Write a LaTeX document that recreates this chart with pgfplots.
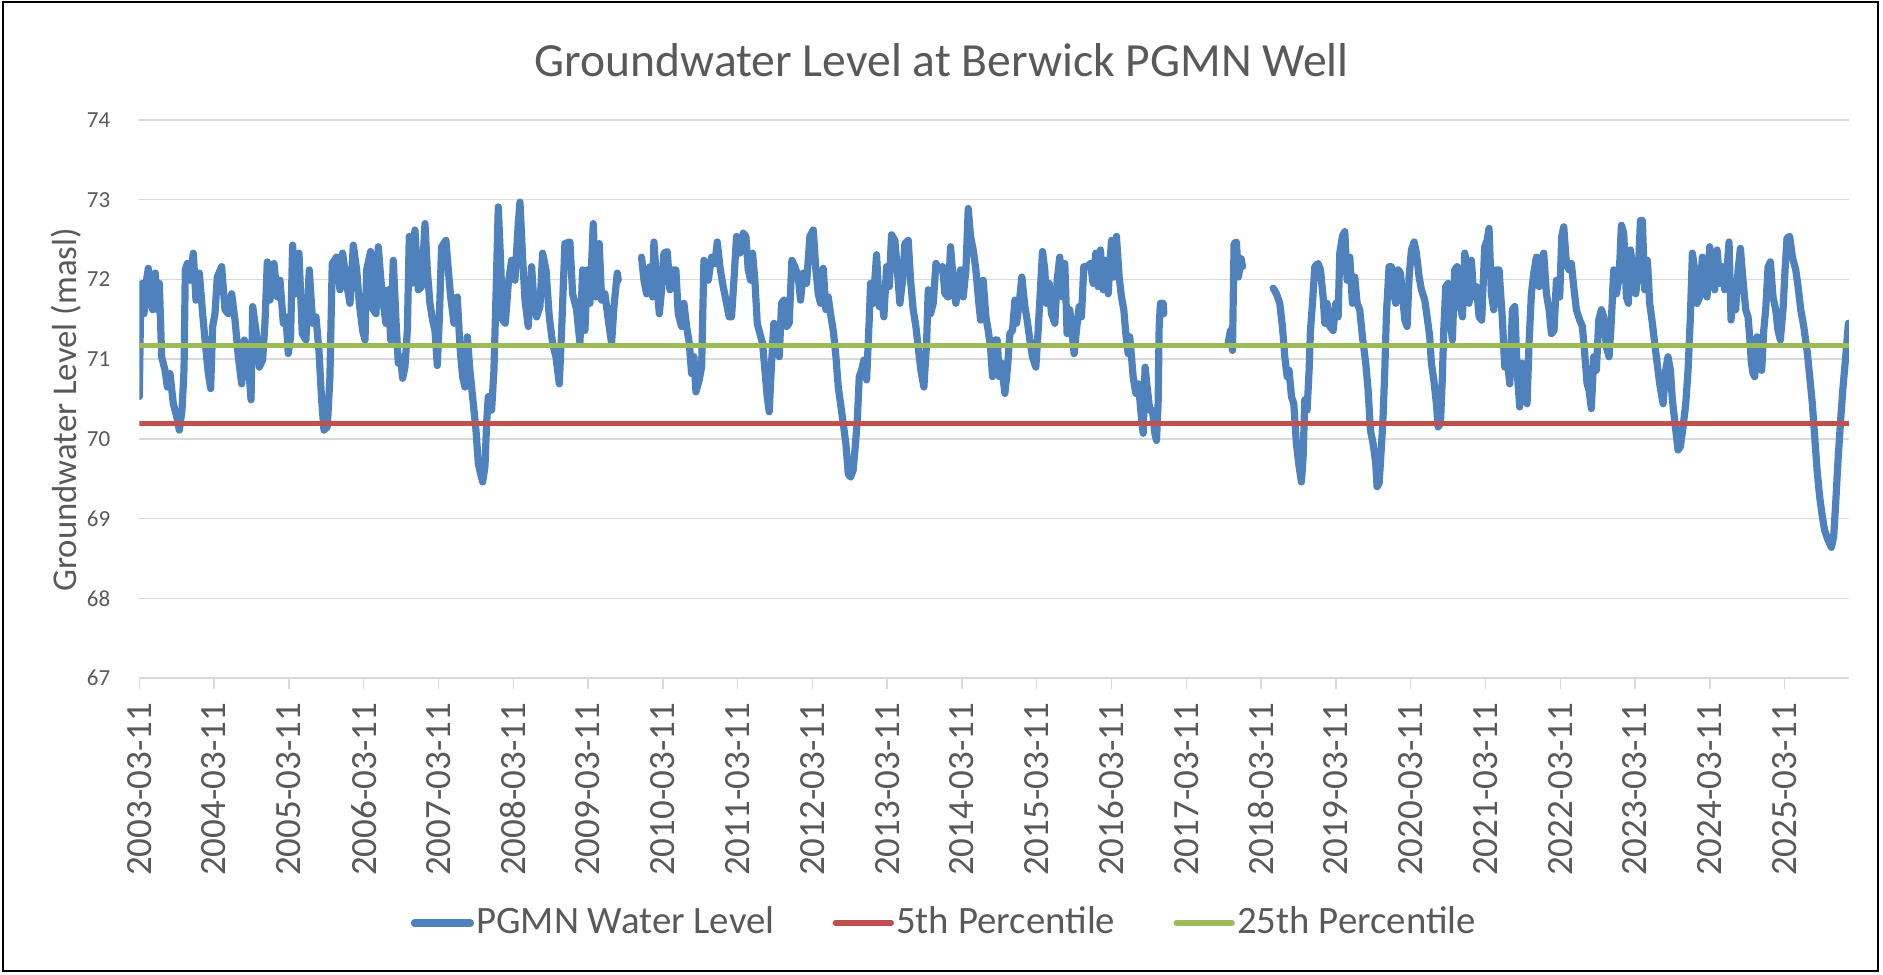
\documentclass[border=0pt]{standalone}
\usepackage{pgfplots}
\pgfplotsset{compat=1.18}
\usepackage{pgfplotstable}
\usepackage{fontspec}
\setmainfont{Carlito}
\definecolor{txt}{HTML}{595959}
\definecolor{grd}{HTML}{D9D9D9}
\definecolor{lblue}{HTML}{4F81BD}
\definecolor{lred}{HTML}{C0504D}
\definecolor{lgreen}{HTML}{9BBB59}

\pgfplotstableread{
t v
0.000 70.53
0.018 71.70
0.036 71.95
0.063 71.57
0.090 71.95
0.121 72.14
0.152 71.70
0.179 71.62
0.214 72.08
0.241 71.62
0.268 71.95
0.299 71.03
0.344 70.86
0.375 70.65
0.410 70.82
0.455 70.44
0.500 70.28
0.535 70.11
0.571 70.36
0.598 70.86
0.615 72.12
0.642 72.20
0.678 71.99
0.722 72.33
0.758 71.74
0.803 72.08
0.847 71.57
0.883 71.20
0.918 70.86
0.954 70.63
0.981 71.41
1.012 71.57
1.043 72.03
1.101 72.16
1.146 71.62
1.191 71.57
1.235 71.82
1.280 71.49
1.324 71.03
1.369 70.69
1.404 71.24
1.458 70.95
1.494 70.49
1.516 71.66
1.560 71.36
1.605 70.90
1.649 70.99
1.680 71.45
1.712 72.22
1.747 71.74
1.801 72.20
1.845 71.78
1.881 71.99
1.926 71.45
1.961 71.53
1.992 71.07
2.023 71.28
2.050 72.43
2.090 71.82
2.135 72.33
2.179 71.32
2.228 71.24
2.273 72.12
2.318 71.45
2.362 71.53
2.402 71.11
2.438 70.49
2.469 70.11
2.514 70.15
2.549 70.78
2.580 72.20
2.638 72.28
2.683 71.87
2.718 72.33
2.772 71.95
2.817 71.70
2.862 72.43
2.906 72.12
2.942 71.70
2.986 71.36
3.018 71.24
3.040 72.12
3.093 72.35
3.129 71.62
3.165 71.57
3.196 72.41
3.227 72.03
3.263 71.70
3.298 71.45
3.330 71.87
3.361 71.24
3.396 72.24
3.432 71.49
3.463 70.95
3.494 71.03
3.521 70.76
3.552 70.90
3.584 71.36
3.610 72.54
3.641 71.95
3.686 72.62
3.731 71.87
3.775 71.91
3.820 72.70
3.851 72.12
3.886 71.70
3.922 71.49
3.953 71.36
3.985 70.92
4.011 71.49
4.042 72.41
4.100 72.49
4.132 72.12
4.163 71.78
4.208 71.45
4.252 71.78
4.288 71.15
4.323 70.78
4.354 70.65
4.386 71.28
4.421 70.86
4.466 70.44
4.502 70.11
4.533 69.69
4.564 69.56
4.591 69.46
4.622 69.65
4.644 70.19
4.666 70.53
4.711 70.36
4.742 70.86
4.769 71.78
4.800 72.91
4.831 72.24
4.858 71.49
4.894 71.45
4.934 71.95
4.978 72.24
5.023 71.99
5.067 72.70
5.090 72.97
5.125 72.28
5.157 71.74
5.201 71.41
5.246 72.16
5.277 71.70
5.313 71.53
5.357 71.66
5.393 72.33
5.438 72.12
5.482 71.53
5.526 71.20
5.571 71.03
5.616 70.69
5.647 71.36
5.691 72.45
5.758 72.47
5.794 71.82
5.847 71.62
5.892 71.20
5.928 72.12
5.959 71.36
5.990 72.12
6.026 71.70
6.070 72.70
6.106 71.78
6.150 72.45
6.182 71.74
6.226 71.82
6.271 71.49
6.315 71.20
6.347 71.66
6.391 72.08
6.404 71.99
6.560 nan
6.716 72.28
6.748 71.99
6.783 71.82
6.828 72.16
6.864 71.78
6.881 72.47
6.917 71.99
6.953 71.57
6.984 71.87
7.015 72.33
7.060 72.35
7.095 71.87
7.140 72.12
7.175 72.12
7.206 71.57
7.251 71.41
7.282 71.70
7.318 71.41
7.354 71.20
7.385 70.82
7.416 71.03
7.443 70.59
7.487 70.74
7.519 70.90
7.550 72.24
7.608 71.99
7.652 72.28
7.697 72.20
7.728 72.47
7.764 72.16
7.799 71.95
7.844 71.74
7.888 71.53
7.919 71.53
7.951 71.99
7.986 72.54
8.031 72.33
8.076 72.58
8.111 72.54
8.142 72.12
8.174 71.99
8.200 72.33
8.231 71.99
8.263 71.45
8.298 71.32
8.334 71.20
8.365 70.86
8.396 70.53
8.423 70.34
8.454 70.95
8.485 71.45
8.521 71.15
8.557 71.03
8.588 71.70
8.619 71.74
8.655 71.41
8.690 71.45
8.726 72.24
8.766 72.16
8.811 72.03
8.842 71.74
8.878 72.08
8.922 71.95
8.967 72.54
9.012 72.62
9.047 72.12
9.078 71.82
9.110 71.70
9.145 72.14
9.181 71.62
9.212 71.78
9.243 71.57
9.279 71.36
9.315 71.03
9.346 70.65
9.377 70.44
9.413 70.19
9.448 69.94
9.480 69.56
9.511 69.52
9.546 69.61
9.573 69.90
9.600 70.23
9.627 70.78
9.658 70.86
9.689 70.99
9.725 70.74
9.760 71.49
9.778 71.95
9.814 71.70
9.858 72.31
9.894 71.66
9.925 71.78
9.956 71.53
9.992 72.16
10.028 71.91
10.059 72.56
10.103 72.49
10.135 72.12
10.170 71.70
10.206 71.99
10.237 72.45
10.282 72.49
10.313 71.99
10.348 71.62
10.384 71.41
10.415 71.15
10.451 70.86
10.491 70.65
10.527 71.20
10.549 71.87
10.580 71.57
10.616 71.70
10.652 72.20
10.696 72.12
10.741 72.16
10.772 71.82
10.817 71.78
10.848 72.41
10.883 71.99
10.919 71.70
10.950 71.95
10.981 72.12
11.017 71.78
11.053 72.12
11.084 72.89
11.115 72.54
11.151 72.37
11.186 72.12
11.218 71.78
11.249 71.49
11.284 71.99
11.320 71.53
11.351 71.36
11.382 71.15
11.409 70.78
11.440 71.24
11.472 71.24
11.498 70.78
11.529 70.95
11.574 70.57
11.610 70.90
11.641 71.32
11.676 71.36
11.708 71.74
11.730 71.45
11.765 71.70
11.801 72.03
11.841 71.66
11.872 71.49
11.908 71.24
11.943 71.03
11.988 70.90
12.019 71.36
12.077 72.35
12.108 72.12
12.130 71.70
12.166 71.95
12.197 71.57
12.242 71.45
12.273 71.99
12.308 72.28
12.344 71.78
12.375 72.20
12.406 71.32
12.442 71.62
12.478 71.28
12.500 71.07
12.531 71.36
12.567 71.66
12.598 71.53
12.629 72.16
12.674 72.16
12.718 72.20
12.754 71.95
12.790 72.33
12.821 71.91
12.852 72.37
12.888 71.87
12.923 72.24
12.955 71.82
12.999 72.49
13.030 72.03
13.066 72.54
13.102 72.03
13.133 71.78
13.164 71.62
13.191 71.32
13.222 71.07
13.244 71.28
13.267 71.03
13.289 70.78
13.325 70.57
13.360 70.69
13.391 70.36
13.423 70.07
13.449 70.90
13.476 70.65
13.512 70.36
13.547 70.36
13.579 70.07
13.601 69.98
13.623 70.44
13.637 71.41
13.654 71.70
13.690 71.70
13.699 71.57
14.100 nan
14.559 71.20
14.590 71.36
14.617 71.11
14.639 72.45
14.670 72.47
14.697 72.03
14.733 72.26
14.751 72.16
14.950 nan
15.161 71.89
15.205 71.82
15.250 71.70
15.285 71.41
15.317 71.03
15.348 70.78
15.374 70.86
15.406 70.53
15.437 70.44
15.472 69.94
15.508 69.65
15.539 69.46
15.562 69.77
15.584 70.49
15.615 70.36
15.642 70.86
15.660 71.36
15.687 71.70
15.718 72.16
15.762 72.20
15.794 72.12
15.829 71.78
15.852 71.45
15.882 71.70
15.918 71.41
15.963 71.36
15.998 71.70
16.030 71.53
16.052 72.33
16.087 72.54
16.119 72.60
16.150 71.99
16.186 72.28
16.221 71.70
16.252 72.03
16.284 71.70
16.319 71.62
16.355 71.28
16.399 70.95
16.431 70.61
16.462 70.11
16.498 69.94
16.533 69.69
16.551 69.40
16.578 69.44
16.609 69.90
16.631 70.28
16.654 70.86
16.676 71.57
16.711 72.16
16.743 72.16
16.774 71.82
16.801 71.70
16.832 72.12
16.863 72.08
16.890 71.82
16.921 71.49
16.952 71.41
16.979 72.03
17.010 72.37
17.046 72.47
17.077 72.33
17.113 72.03
17.144 71.87
17.188 71.74
17.220 71.53
17.255 71.28
17.277 70.95
17.309 70.74
17.344 70.44
17.367 70.15
17.398 70.19
17.424 70.78
17.442 71.36
17.469 71.91
17.500 71.95
17.522 71.53
17.558 71.24
17.589 72.12
17.620 72.16
17.656 71.70
17.692 71.53
17.723 72.33
17.754 72.16
17.781 71.70
17.812 72.24
17.843 71.78
17.879 71.91
17.915 71.53
17.950 71.49
17.990 72.41
18.021 72.49
18.048 72.64
18.079 71.82
18.111 71.62
18.146 72.12
18.182 72.12
18.227 71.49
18.258 70.90
18.289 71.03
18.325 70.69
18.360 71.62
18.392 71.66
18.423 70.86
18.458 70.40
18.490 70.95
18.525 70.78
18.556 70.44
18.583 71.20
18.614 71.82
18.646 72.08
18.681 72.28
18.717 71.91
18.748 72.24
18.779 72.33
18.815 71.82
18.851 71.62
18.882 71.32
18.917 71.36
18.949 71.99
18.993 71.78
19.020 72.54
19.047 72.66
19.082 72.20
19.118 72.12
19.149 72.20
19.180 71.91
19.216 71.62
19.260 71.49
19.296 71.41
19.327 71.07
19.359 70.69
19.385 70.61
19.416 70.38
19.448 71.03
19.483 70.86
19.515 71.49
19.550 71.62
19.582 71.53
19.617 71.15
19.653 71.03
19.684 71.49
19.715 72.12
19.751 71.82
19.787 72.03
19.818 72.68
19.849 72.58
19.885 71.78
19.911 71.70
19.938 72.37
19.974 72.12
20.009 71.82
20.045 72.12
20.072 72.74
20.098 72.74
20.130 71.87
20.165 72.24
20.196 71.70
20.232 71.45
20.263 71.20
20.295 70.95
20.330 70.69
20.375 70.44
20.410 70.86
20.441 71.03
20.473 70.86
20.499 70.49
20.535 70.19
20.575 69.86
20.606 69.90
20.642 70.15
20.678 70.44
20.709 70.86
20.740 71.53
20.767 72.33
20.798 72.12
20.829 71.70
20.865 71.78
20.900 72.28
20.932 72.08
20.963 71.78
20.998 72.41
21.034 72.12
21.065 71.87
21.097 72.37
21.132 71.95
21.168 72.16
21.199 71.87
21.230 72.12
21.257 72.47
21.284 71.49
21.311 71.87
21.346 71.62
21.378 72.12
21.409 72.39
21.444 71.99
21.480 71.62
21.511 71.53
21.533 71.28
21.556 70.95
21.578 70.82
21.600 70.78
21.632 71.28
21.667 71.03
21.694 70.86
21.721 71.36
21.747 71.62
21.779 72.16
21.810 72.22
21.845 71.78
21.881 71.62
21.912 71.36
21.943 71.24
21.979 71.62
22.006 72.12
22.033 72.52
22.068 72.54
22.104 72.28
22.149 72.12
22.180 71.91
22.216 71.62
22.256 71.41
22.300 71.11
22.336 70.78
22.371 70.44
22.402 70.03
22.434 69.61
22.469 69.27
22.505 69.02
22.536 68.85
22.581 68.73
22.625 68.64
22.656 68.77
22.683 69.19
22.714 69.73
22.746 70.19
22.781 70.65
22.817 71.03
22.853 71.45
}\level

\begin{document}
\begin{tikzpicture}
\useasboundingbox (0,0) rectangle (470.75pt,243.5pt);
\draw[black, line width=0.5pt] (0.65pt,0.75pt) rectangle (469.5pt,242.9pt);
\node[text=txt, font=\fontsize{11.9}{14}\selectfont] at (235.4pt,228.5pt) {Groundwater Level at Berwick PGMN Well};
\node[text=txt, rotate=90, font=\fontsize{8.7}{10}\selectfont] at (16.5pt,141pt) {Groundwater Level (masl)};
\begin{axis}[
  at={(34.825pt,74pt)}, anchor=south west,
  scale only axis, width=427.4pt, height=139.5pt,
  xmin=0, xmax=22.86, ymin=67, ymax=74,
  ytick={67,68,...,74},
  xtick={0,1,...,22},
  xticklabels={2003-03-11,2004-03-11,2005-03-11,2006-03-11,2007-03-11,2008-03-11,2009-03-11,2010-03-11,2011-03-11,2012-03-11,2013-03-11,2014-03-11,2015-03-11,2016-03-11,2017-03-11,2018-03-11,2019-03-11,2020-03-11,2021-03-11,2022-03-11,2023-03-11,2024-03-11,2025-03-11},
  axis line style={draw=none},
  ymajorgrids, grid style={grd, line width=0.35pt},
  xtick pos=left, ytick pos=left,
  tick align=outside,
  major tick length=2.75pt,
  x tick style={grd, line width=0.35pt},
  y tick style={draw=none},
  xticklabel style={rotate=90, anchor=east, font=\fontsize{9.25}{10}\selectfont, text=txt},
  yticklabel style={font=\fontsize{5.75}{7}\selectfont, text=txt, xshift=-1pt},
  /pgf/number format/assume math mode=true,
  unbounded coords=jump,
  legend columns=3,
  legend style={at={(0.471,-0.439)}, anchor=center, draw=none, fill=none,
    font=\fontsize{9.7}{11}\selectfont, text=txt, inner sep=0pt,
    nodes={inner sep=0.6pt},
    /tikz/every even column/.append style={column sep=14pt}},
  legend image code/.code={\draw[#1, line cap=round] (0pt,0pt) -- (14pt,0pt);},
]
\addplot[lblue, line width=1.8pt, line join=round, line cap=round] table[x=t, y=v] {\level};
\addlegendentry{PGMN Water Level}
\addplot[lred, line width=1.3pt] coordinates {(0,70.19) (22.86,70.19)};
\addlegendentry{5th Percentile}
\addplot[lgreen, line width=1.3pt] coordinates {(0,71.17) (22.86,71.17)};
\addlegendentry{25th Percentile}
\end{axis}
\end{tikzpicture}
\end{document}
